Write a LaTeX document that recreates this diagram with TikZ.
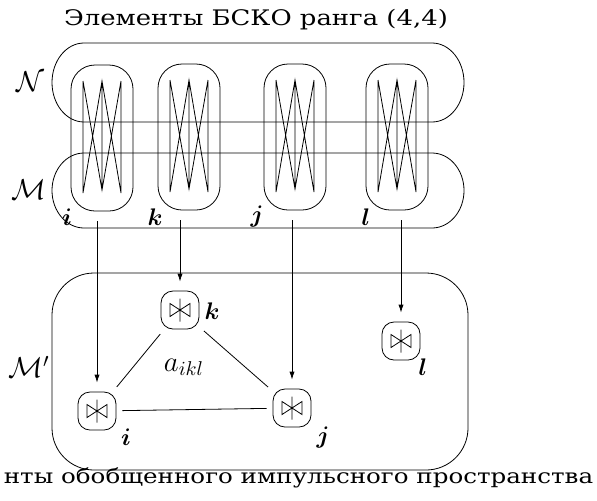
\documentclass[tikz,border=0pt]{standalone}
\usepackage{amsmath, amssymb, bm}
\usepackage{fontspec}
\newfontfamily\cyrfont[FakeStretch=1.21]{DejaVu Serif}
\usepackage{tikz}
\usetikzlibrary{arrows.meta, positioning}

\begin{document}
\begin{tikzpicture}[
    x=0.5pt, y=0.5pt,
    capsule/.style={
        draw,
        rounded corners=12pt,
        minimum width=31pt,
        minimum height=73pt,
        inner sep=0pt
    },
    state/.style={
        draw,
        rounded corners=6pt,
        minimum width=19pt,
        minimum height=19pt,
        inner sep=0pt
    },
    lbl/.style={
        inner sep=0pt,
        font=\fontsize{12}{14}\selectfont
    },
    biglbl/.style={
        inner sep=0pt,
        font=\fontsize{14.4}{16}\selectfont
    },
    caption/.style={
        inner sep=0pt,
        font=\cyrfont\fontsize{10.7}{12}\selectfont
    },
    arrow/.style={
        -{Latex[length=4pt,width=2.6pt]},
        shorten <=5pt,
        shorten >=4.5pt
    },
    link/.style={
        shorten <=3pt,
        shorten >=3pt
    }
]
\useasboundingbox (0,0) rectangle (597,500);

% Regions
\draw (84,457) -- (432,457) arc[start angle=90, end angle=-90, x radius=32, y radius=39.5]
    -- (84,378) arc[start angle=270, end angle=90, x radius=32, y radius=39.5] -- cycle;
\draw (84,347) -- (432,347) arc[start angle=90, end angle=-90, x radius=32, y radius=37.5]
    -- (84,272) arc[start angle=270, end angle=90, x radius=32, y radius=37.5] -- cycle;
\draw[rounded corners=21pt] (52,30) rectangle (468,227);

% Nodes
\node (title) [caption] at (256,480) {Элементы БСКО ранга (4,4)};
\node (capI) [capsule] at (102,362) {};
\node (capK) [capsule] at (189,363) {};
\node (capJ) [capsule] at (295,363) {};
\node (capL) [capsule] at (397,363) {};
\foreach \c in {capI,capK,capJ,capL} {
    \draw[shift={(\c.center)}] (-19,57) -- (-19,-55) (0,57) -- (0,-52) (19,57) -- (19,-55)
        (-19,57) -- (0,-52) -- (19,57) (-19,-55) -- (0,57) -- (19,-55);
}
\node (nI) [state] at (97,89) {};
\node (nK) [state] at (180,190) {};
\node (nJ) [state] at (292,92) {};
\node (nL) [state] at (401,159) {};
\foreach \n in {nI,nK,nJ,nL} {
    \draw[shift={(\n.center)}] (-10,6.5) -- (-10,-6.5) -- (10,6.5) -- (10,-6.5) -- cycle
        (0,11.5) -- (0,-11.5);
}

% Labels
\node (lN) [biglbl] at (30,418) {$\mathcal{N}$};
\node (lM) [biglbl] at (29,310) {$\mathcal{M}$};
\node (lMp) [biglbl] at (29,133) {$\mathcal{M}'$};
\node (lcI) [lbl] at (67,283) {$\bm{i}$};
\node (lcK) [lbl] at (155,283) {$\bm{k}$};
\node (lcJ) [lbl] at (257,283) {$\bm{j}$};
\node (lcL) [lbl] at (366,283) {$\bm{l}$};
\node (lI) [lbl] at (126,63) {$\bm{i}$};
\node (lK) [lbl] at (212,189) {$\bm{k}$};
\node (lJ) [lbl] at (323,63) {$\bm{j}$};
\node (lL) [lbl] at (423,133) {$\bm{l}$};
\node (face) [biglbl] at (184,133) {$a_{ikl}$};
\node (bottom) [caption, font=\cyrfont\fontsize{10.15}{12}\selectfont, anchor=base] at (298.5,17) {нты обобщенного импульсного пространства};

% Paths
\draw [arrow] (capI.south -| nI.north) -- (nI.north);
\draw [arrow] (capK.south -| nK.north) -- (nK.north);
\draw [arrow] (capJ.south -| nJ.north) -- (nJ.north);
\draw [arrow] (capL.south -| nL.north) -- (nL.north);
\draw [link] (nK) -- (nI);
\draw [link] (nK) -- (nJ);
\draw [link] (nI) -- (nJ);

\end{tikzpicture}
\end{document}
